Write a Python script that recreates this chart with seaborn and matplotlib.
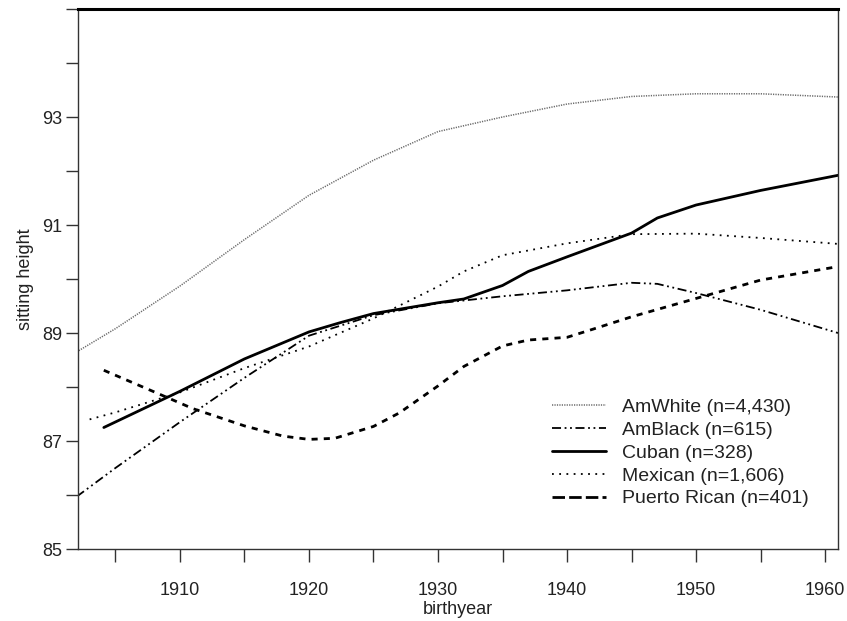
import matplotlib
matplotlib.use("Agg")
import matplotlib.pyplot as plt
from matplotlib.lines import Line2D
from matplotlib.ticker import MultipleLocator
import seaborn as sns
import pandas as pd

# ---- data ----
amwhite_year = [1902.0, 1905, 1910, 1915, 1920, 1925, 1930, 1935, 1940, 1945, 1950, 1955, 1961]
amwhite_val = [88.65, 89.08, 89.87, 90.73, 91.55, 92.20, 92.73, 93.00, 93.24, 93.38, 93.43, 93.43, 93.37]

amblack_year = [1902.0, 1905, 1910, 1915, 1920, 1925, 1930, 1935, 1940, 1945, 1947, 1950, 1955, 1961]
amblack_val = [85.97, 86.50, 87.35, 88.17, 88.95, 89.33, 89.55, 89.68, 89.79, 89.93, 89.91, 89.74, 89.43, 89.00]

cuban_year = [1904.1, 1910, 1915, 1920, 1922.4, 1925, 1930, 1932, 1935, 1937, 1940, 1945, 1947, 1950, 1955, 1961]
cuban_val = [87.25, 87.92, 88.52, 89.02, 89.19, 89.36, 89.56, 89.63, 89.88, 90.14, 90.41, 90.85, 91.13, 91.37, 91.64, 91.92]

mexican_year = [1903.0, 1905, 1910, 1915, 1920, 1925, 1930, 1932, 1935, 1940, 1945, 1950, 1955, 1961]
mexican_val = [87.40, 87.53, 87.90, 88.35, 88.75, 89.27, 89.86, 90.14, 90.44, 90.66, 90.83, 90.84, 90.76, 90.65]

puerto_year = [1904.1, 1908, 1911, 1915, 1918, 1920, 1922, 1925, 1927, 1930, 1932, 1935, 1937, 1940, 1942, 1945, 1950, 1955, 1961]
puerto_val = [88.31, 87.91, 87.60, 87.28, 87.09, 87.03, 87.05, 87.27, 87.52, 88.02, 88.38, 88.76, 88.87, 88.92, 89.07, 89.30, 89.64, 89.98, 90.23]

labels = ["AmWhite (n=4,430)", "AmBlack (n=615)", "Cuban (n=328)",
          "Mexican (n=1,606)", "Puerto Rican (n=401)"]

series = [(amwhite_year, amwhite_val), (amblack_year, amblack_val),
          (cuban_year, cuban_val), (mexican_year, mexican_val),
          (puerto_year, puerto_val)]

xticks = [1910, 1920, 1930, 1940, 1950, 1960]
yticks = [85, 87, 89, 91, 93]

# ---- styles ----
styles = [
    dict(color="#6a6a6a", lw=1.1, ls=(0, (0.8, 0.8))),
    dict(color="black", lw=1.3, ls=(0, (5, 2, 1, 2, 1, 2))),
    dict(color="black", lw=2.0, ls="-"),
    dict(color="black", lw=1.3, ls=(0, (1, 3))),
    dict(color="black", lw=2.0, ls=(0, (2.2, 2.2))),
]
legend_ls = [(0, (0.8, 0.8)), (0, (5, 2, 1, 2, 1, 2)), "-", (0, (1, 3)), (0, (4.5, 1.5))]

sns.set_theme(style="white")
plt.rcParams["font.family"] = ["Liberation Sans", "DejaVu Sans"]

fig = plt.figure(figsize=(8.47, 6.21), dpi=100)
ax = fig.add_axes([78 / 847, 1 - 549 / 621, 760 / 847, 540 / 621])

for (xs, ys), lab, st in zip(series, labels, styles):
    df = pd.DataFrame({"birthyear": xs, "sitting height": ys})
    sns.lineplot(data=df, x="birthyear", y="sitting height", ax=ax,
                 color=st["color"], linewidth=st["lw"], linestyle=st["ls"],
                 legend=False)

ax.set_xlim(1902.1, 1961.0)
ax.set_ylim(85, 95)
ax.set_xticks(xticks)
ax.set_yticks(yticks)
ax.xaxis.set_minor_locator(MultipleLocator(5))
ax.yaxis.set_minor_locator(MultipleLocator(1))
ax.tick_params(axis="both", which="both", direction="out", length=9, width=1,
               color="#333333", labelsize=13, labelcolor="#222222",
               bottom=True, left=True)
ax.tick_params(axis="x", which="major", pad=14.5)
ax.tick_params(axis="y", which="major", pad=2.5)

ax.set_xlabel("birthyear", fontsize=13, color="#222222", labelpad=2)
ax.set_ylabel("sitting height", fontsize=13, color="#222222", labelpad=6)

for side in ["left", "right", "bottom"]:
    ax.spines[side].set_color("#333333")
    ax.spines[side].set_linewidth(1.0)
ax.spines["top"].set_color("black")
ax.spines["top"].set_linewidth(2.2)

handles = [Line2D([0], [0], color=st["color"], lw=st["lw"], ls=ls)
           for st, ls in zip(styles, legend_ls)]
leg = ax.legend(handles, labels, loc="upper left", bbox_to_anchor=(0.624, 0.279),
                frameon=False, fontsize=14, handlelength=2.75, handletextpad=0.85,
                labelspacing=0.27, borderaxespad=0, borderpad=0)
for t in leg.get_texts():
    t.set_color("#222222")

fig.savefig("out.png", dpi=100)
